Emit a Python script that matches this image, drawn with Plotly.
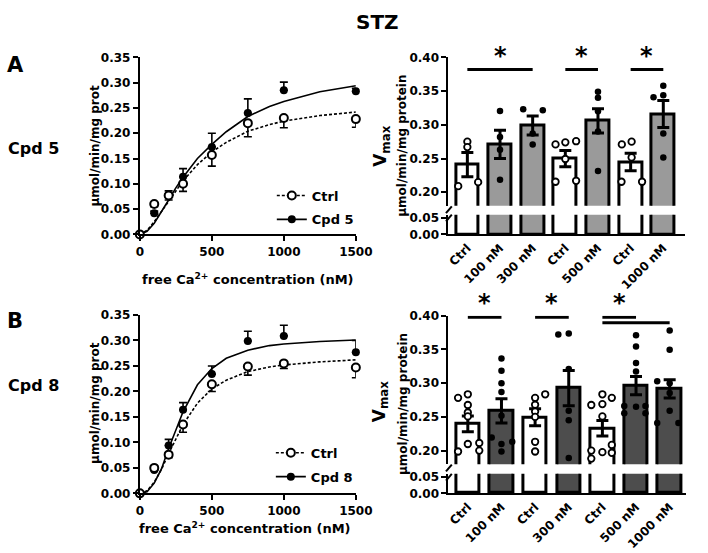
import plotly.graph_objects as go

W, H = 708, 553
FONT = "DejaVu Sans"

# ---------------- data: left panels (dose-response) ----------------
conc = [0, 100, 200, 300, 500, 750, 1000, 1500]
a_ctrl = [0.0, 0.060, 0.077, 0.100, 0.157, 0.220, 0.230, 0.228]
a_ctrl_sem = [0.0, 0.005, 0.009, 0.015, 0.022, 0.027, 0.019, 0.016]
a_cpd = [0.0, 0.042, 0.078, 0.114, 0.173, 0.240, 0.285, 0.283]
a_cpd_sem = [0.0, 0.004, 0.008, 0.016, 0.027, 0.028, 0.016, 0.006]

b_ctrl = [0.0, 0.050, 0.076, 0.135, 0.214, 0.249, 0.255, 0.247]
b_ctrl_sem = [0.0, 0.005, 0.006, 0.015, 0.014, 0.017, 0.010, 0.020]
b_cpd = [0.0, 0.046, 0.094, 0.164, 0.234, 0.299, 0.309, 0.277]
b_cpd_sem = [0.0, 0.004, 0.012, 0.014, 0.016, 0.019, 0.021, 0.023]

# fitted curves
fit_conc = [0, 50, 100, 150, 200, 250, 300, 400, 500, 600, 750, 900, 1000, 1250, 1500]
a_ctrl_fit = [0, 0.008, 0.025, 0.045, 0.067, 0.087, 0.106, 0.138, 0.163, 0.182, 0.204, 0.217, 0.224, 0.235, 0.242]
a_cpd_fit = [0, 0.006, 0.022, 0.044, 0.068, 0.092, 0.113, 0.150, 0.178, 0.203, 0.233, 0.253, 0.263, 0.282, 0.294]
b_ctrl_fit = [0, 0.005, 0.022, 0.047, 0.078, 0.107, 0.135, 0.177, 0.205, 0.222, 0.239, 0.248, 0.252, 0.258, 0.262]
b_cpd_fit = [0, 0.003, 0.020, 0.048, 0.088, 0.125, 0.160, 0.213, 0.245, 0.265, 0.281, 0.290, 0.293, 0.298, 0.301]

x_ticks = [0, 500, 1000, 1500]
y_ticks_left = [0.00, 0.05, 0.10, 0.15, 0.20, 0.25, 0.30, 0.35]

# ---------------- data: right panels (Vmax bars) ----------------
tr_labels = ["Ctrl", "100 nM", "300 nM", "Ctrl", "500 nM", "Ctrl", "1000 nM"]
tr_mean = [0.241, 0.271, 0.299, 0.250, 0.306, 0.245, 0.316]
tr_sem = [0.018, 0.021, 0.014, 0.012, 0.018, 0.013, 0.020]
tr_treated = [False, True, True, False, True, False, True]
tr_dots = [
    [0.275, 0.267, 0.209, 0.215],
    [0.3205, 0.282, 0.263, 0.2185],
    [0.323, 0.3215, 0.287, 0.271],
    [0.271, 0.274, 0.2757, 0.2493, 0.2156, 0.217],
    [0.349, 0.340, 0.320, 0.290, 0.2315],
    [0.271, 0.275, 0.2517, 0.2156, 0.2156],
    [0.358, 0.341, 0.3437, 0.287, 0.2517],
]
tr_dots_dx = [
    [0.0, 0.0, -0.28, 0.33],
    [0.0, 0.0, 0.0, 0.0],
    [-0.29, 0.31, 0.0, 0.0],
    [-0.30, 0.0, 0.33, 0.0, -0.30, 0.33],
    [0.0, 0.0, 0.0, 0.0, 0.0],
    [-0.27, 0.03, 0.03, -0.28, 0.35],
    [0.0, -0.30, 0.0, 0.0, 0.0],
]
tr_sig_pairs = [(0, 2), (3, 4), (5, 6)]
tr_sig_levels = [0.382, 0.382, 0.382]
tr_star_pairs = [(0, 2), (3, 4), (5, 6)]

br_labels = ["Ctrl", "100 nM", "Ctrl", "300 nM", "Ctrl", "500 nM", "1000 nM"]
br_mean = [0.2395, 0.259, 0.2495, 0.2926, 0.233, 0.2965, 0.2916]
br_sem = [0.0117, 0.018, 0.0127, 0.026, 0.0115, 0.0135, 0.0135]
br_treated = [False, True, False, True, False, True, True]
br_dots = [
    [0.2782, 0.2835, 0.2676, 0.2565, 0.2507, 0.2098, 0.1987, 0.2113, 0.2001],
    [0.3364, 0.3182, 0.2999, 0.2869, 0.2517, 0.2194, 0.2131, 0.2098, 0.1987],
    [0.2782, 0.2835, 0.268, 0.258, 0.250, 0.2131, 0.1987],
    [0.372, 0.3735, 0.321, 0.259, 0.245, 0.189],
    [0.2676, 0.269, 0.2782, 0.2835, 0.2507, 0.2001, 0.1882, 0.1977, 0.2084, 0.1968],
    [0.371, 0.3543, 0.330, 0.3172, 0.2662, 0.2652, 0.2662, 0.2555, 0.2555],
    [0.378, 0.3494, 0.3027, 0.2999, 0.2854, 0.259, 0.241, 0.241],
]
br_dots_dx = [
    [-0.29, 0.0, 0.0, 0.0, 0.0, 0.0, -0.29, 0.34, 0.34],
    [0.0, 0.0, 0.0, 0.0, 0.0, -0.29, 0.32, 0.0, 0.0],
    [0.0, 0.30, 0.0, 0.0, 0.0, 0.0, 0.0],
    [-0.31, 0.0, 0.0, 0.0, 0.0, 0.0],
    [-0.33, 0.0, 0.28, 0.0, 0.0, -0.33, -0.33, 0.0, 0.28, 0.28],
    [0.0, 0.0, 0.0, 0.0, -0.35, 0.0, 0.28, -0.35, 0.28],
    [0.0, 0.0, -0.37, 0.0, 0.0, 0.0, -0.37, 0.26],
]
br_sig_pairs = [(0, 1), (2, 3), (4, 5), (4, 6)]
br_sig_levels = [0.3975, 0.3975, 0.3975, 0.3895]
br_star_pairs = [(0, 1), (2, 3), (4, 5)]

vmax_ticks_up = [0.20, 0.25, 0.30, 0.35, 0.40]
vmax_ticks_lo = [0.00, 0.05]


# ---------------- layout helpers ----------------
def px(x):
    return x / W


def py(y):
    return 1 - y / H


def bold(size):
    return dict(family=FONT, size=size, color="black", weight="bold")


L_X = [px(140), px(362.6)]
TL_Y = [py(233.3), py(51.7)]
BL_Y = [py(499), py(316)]
TR_X = [px(458), px(702)]
BR_X = [px(458), px(703)]
TR_UP = [py(203.9), py(51.7)]
TR_LO = [py(233.3), py(213.2)]
BR_UP = [py(469), py(316.7)]
BR_LO = [py(499), py(479)]

fig = go.Figure()

axis_common = dict(showline=True, linewidth=2, linecolor="black", ticks="outside",
                   ticklen=5, tickwidth=2, tickcolor="black", showgrid=False,
                   zeroline=False, tickfont=bold(12))


def add_curve_panel(xa, ya, ctrl, ctrl_sem, cpd, cpd_sem, ctrl_fit, cpd_fit, legend, cpd_name):
    fig.add_trace(go.Scatter(x=fit_conc, y=ctrl_fit, mode="lines", xaxis=xa, yaxis=ya,
                             line=dict(color="black", width=1.6, dash="3px,2px"),
                             showlegend=False, hoverinfo="skip"))
    fig.add_trace(go.Scatter(x=fit_conc, y=cpd_fit, mode="lines", xaxis=xa, yaxis=ya,
                             line=dict(color="black", width=1.6),
                             showlegend=False, hoverinfo="skip"))
    fig.add_trace(go.Scatter(x=conc, y=cpd, mode="markers", xaxis=xa, yaxis=ya, cliponaxis=False,
                             marker=dict(size=8, color="black", line=dict(width=0)),
                             error_y=dict(type="data", symmetric=False, array=cpd_sem,
                                          arrayminus=[0] * len(cpd_sem), thickness=1.6,
                                          width=4, color="black"),
                             showlegend=False))
    fig.add_trace(go.Scatter(x=conc, y=ctrl, mode="markers", xaxis=xa, yaxis=ya, cliponaxis=False,
                             marker=dict(size=8, color="white", line=dict(width=2, color="black")),
                             error_y=dict(type="data", symmetric=False, array=[0] * len(ctrl_sem),
                                          arrayminus=ctrl_sem, thickness=1.6, width=4,
                                          color="black"),
                             showlegend=False))
    # legend entries
    fig.add_trace(go.Scatter(x=[None], y=[None], mode="lines+markers", name="Ctrl",
                             xaxis=xa, yaxis=ya, legend=legend, legendgroup=legend + "a",
                             line=dict(color="black", width=1.6, dash="3px,2px"),
                             marker=dict(size=8, color="white", line=dict(width=2, color="black"))))
    fig.add_trace(go.Scatter(x=[None], y=[None], mode="lines+markers", name=cpd_name,
                             xaxis=xa, yaxis=ya, legend=legend, legendgroup=legend + "b",
                             line=dict(color="black", width=1.6),
                             marker=dict(size=8, color="black")))


add_curve_panel("x", "y", a_ctrl, a_ctrl_sem, a_cpd, a_cpd_sem, a_ctrl_fit, a_cpd_fit, "legend", "Cpd 5")
add_curve_panel("x2", "y2", b_ctrl, b_ctrl_sem, b_cpd, b_cpd_sem, b_ctrl_fit, b_cpd_fit, "legend2", "Cpd 8")


def add_bar_panel(xa, ya_up, ya_lo, means, sems, treated, fill, dots, dxs):
    idx = list(range(len(means)))
    colors = [fill if t else "white" for t in treated]
    for ya, show_err in ((ya_lo, False), (ya_up, True)):
        fig.add_trace(go.Bar(x=idx, y=means, width=0.70, xaxis=xa, yaxis=ya,
                             marker=dict(color=colors, line=dict(color="black", width=3)),
                             error_y=dict(type="data", array=sems, visible=show_err,
                                          thickness=3, width=6, color="black"),
                             showlegend=False))
    ox, oy, fx, fy = [], [], [], []
    for i, (vals, dx) in enumerate(zip(dots, dxs)):
        for v, d in zip(vals, dx):
            if treated[i]:
                fx.append(i + d)
                fy.append(v)
            else:
                ox.append(i + d)
                oy.append(v)
    fig.add_trace(go.Scatter(x=ox, y=oy, mode="markers", xaxis=xa, yaxis=ya_up,
                             marker=dict(size=6.5, color="white", line=dict(width=1.8, color="black")),
                             showlegend=False))
    fig.add_trace(go.Scatter(x=fx, y=fy, mode="markers", xaxis=xa, yaxis=ya_up,
                             marker=dict(size=6.5, color="black"), showlegend=False))


add_bar_panel("x3", "y3", "y4", tr_mean, tr_sem, tr_treated, "#9a9a9a", tr_dots, tr_dots_dx)
add_bar_panel("x4", "y5", "y6", br_mean, br_sem, br_treated, "#4d4d4d", br_dots, br_dots_dx)

shapes = []
annotations = []


def add_sig(xref, yref, pairs, levels, stars):
    for (a, b), lv in zip(pairs, levels):
        shapes.append(dict(type="line", xref=xref, yref=yref, x0=a, x1=b, y0=lv, y1=lv,
                           line=dict(color="black", width=3)))
    for (a, b), lv in zip(stars, levels):
        annotations.append(dict(xref=xref, yref=yref, x=(a + b) / 2, y=lv, text="*",
                                showarrow=False, yanchor="bottom", yshift=-2,
                                font=bold(24)))


add_sig("x3", "y3", tr_sig_pairs, tr_sig_levels, tr_star_pairs)
add_sig("x4", "y5", br_sig_pairs, br_sig_levels, br_star_pairs)

# axis-break slashes
for yc in (208, 216.5, 473, 482.5):
    shapes.append(dict(type="line", xref="paper", yref="paper",
                       x0=px(455.5), x1=px(461.5), y0=py(yc + 3.5), y1=py(yc - 3.5),
                       line=dict(color="black", width=2)))

ca_title = "free Ca<sup>2+</sup> concentration (nM)"
texts = [
    ("STZ", 385, 15, 20, 0, "center"),
    ("A", 1, 59.5, 21, 0, "left"),
    ("B", 1, 322.5, 21, 0, "left"),
    ("Cpd 5", 2, 145, 16, 0, "left"),
    ("Cpd 8", 2, 388.5, 16, 0, "left"),
    ("µmol/min/mg prot", 94, 142, 12, -90, "center"),
    ("µmol/min/mg prot", 94, 406, 12, -90, "center"),
    (ca_title, 251, 279, 13, 0, "center"),
    (ca_title, 248, 535, 13, 0, "center"),
    ("V<sub>max</sub>", 389, 142, 17, -90, "center"),
    ("µmol/min/mg protein", 410.5, 142, 12, -90, "center"),
    ("V<sub>max</sub>", 388, 404, 17, -90, "center"),
    ("µmol/min/mg protein", 410.5, 407, 12, -90, "center"),
]
for t, x, y, s, ang, xa in texts:
    annotations.append(dict(xref="paper", yref="paper", x=px(x), y=py(y), text=t,
                            showarrow=False, textangle=ang, xanchor=xa, yanchor="middle",
                            font=bold(s)))

left_x = dict(axis_common, range=[0, 1500], tickvals=x_ticks, domain=L_X)
left_y = dict(axis_common, range=[0, 0.35], tickvals=y_ticks_left, tickformat=".2f")
bar_x = dict(axis_common, ticks="", tickangle=-45, tickmode="array",
             tickvals=list(range(7)), tickfont=bold(12))

fig.update_layout(
    width=W, height=H, margin=dict(l=0, r=0, t=0, b=0),
    paper_bgcolor="white", plot_bgcolor="white",
    font=dict(family=FONT, color="black", weight="bold"),
    bargap=0,
    xaxis=dict(left_x, anchor="y"),
    yaxis=dict(left_y, domain=TL_Y, anchor="x"),
    xaxis2=dict(left_x, anchor="y2"),
    yaxis2=dict(left_y, domain=BL_Y, anchor="x2"),
    xaxis3=dict(bar_x, domain=TR_X, range=[-0.58, 6.67], ticktext=tr_labels, anchor="y4"),
    yaxis3=dict(axis_common, domain=TR_UP, range=[0.18, 0.40], tickvals=vmax_ticks_up,
                tickformat=".2f", anchor="x3"),
    yaxis4=dict(axis_common, domain=TR_LO, range=[0, 0.058], tickvals=vmax_ticks_lo,
                tickformat=".2f", anchor="x3"),
    xaxis4=dict(bar_x, domain=BR_X, range=[-0.577, 6.49], ticktext=br_labels, anchor="y6"),
    yaxis5=dict(axis_common, domain=BR_UP, range=[0.18, 0.40], tickvals=vmax_ticks_up,
                tickformat=".2f", anchor="x4"),
    yaxis6=dict(axis_common, domain=BR_LO, range=[0, 0.058], tickvals=vmax_ticks_lo,
                tickformat=".2f", anchor="x4"),
    legend=dict(x=px(276), y=py(178), xanchor="left", yanchor="top", bgcolor="rgba(0,0,0,0)",
                font=bold(13), traceorder="grouped", tracegroupgap=4, itemwidth=30),
    legend2=dict(x=px(275), y=py(442), xanchor="left", yanchor="top", bgcolor="rgba(0,0,0,0)",
                 font=bold(13), traceorder="grouped", tracegroupgap=4, itemwidth=30),
    shapes=shapes,
    annotations=annotations,
)

fig.write_html("out.html", config={"displayModeBar": False},
               post_script="document.body.style.margin='0px';document.body.style.overflow='hidden';")
